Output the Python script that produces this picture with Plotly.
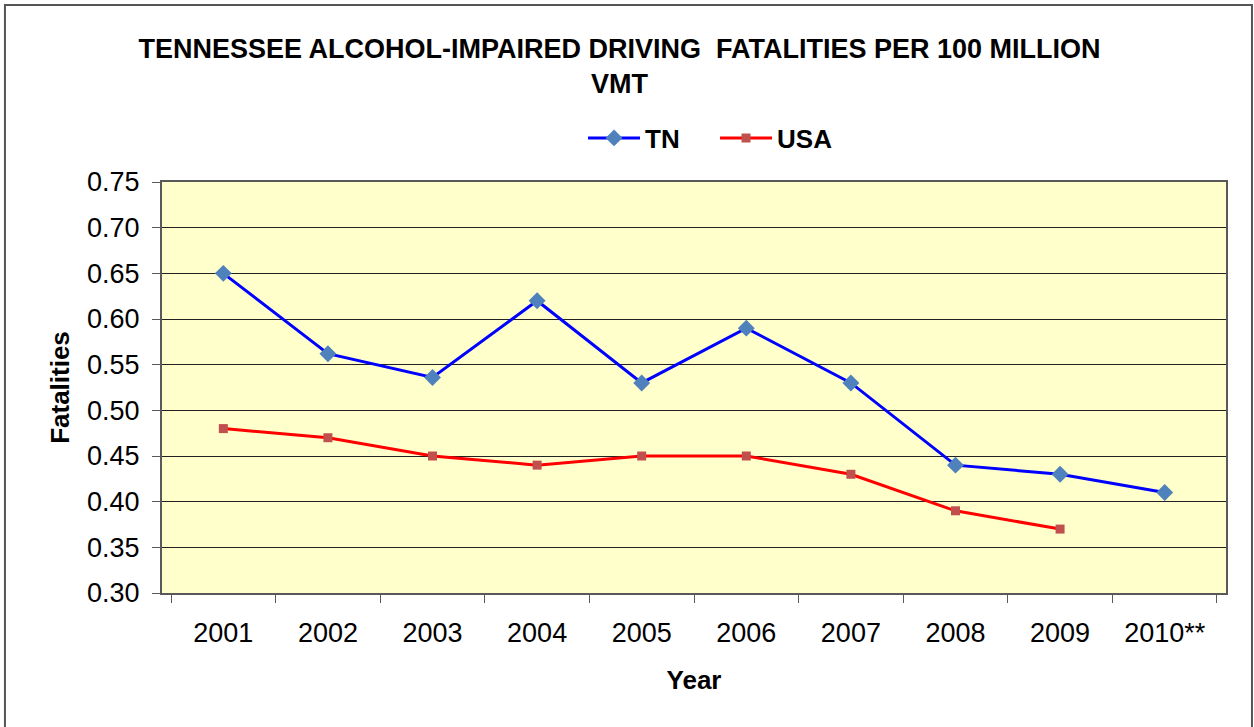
import plotly.graph_objects as go

years = ["2001", "2002", "2003", "2004", "2005", "2006", "2007", "2008", "2009", "2010**"]
tn_rate = [0.65, 0.562, 0.536, 0.62, 0.53, 0.59, 0.53, 0.44, 0.43, 0.41]
usa_rate = [0.48, 0.47, 0.45, 0.44, 0.45, 0.45, 0.43, 0.39, 0.37, None]
y_ticks = [0.30, 0.35, 0.40, 0.45, 0.50, 0.55, 0.60, 0.65, 0.70, 0.75]

FONT = "Arial, Liberation Sans, sans-serif"
AXIS_COLOR = "#595959"

fig = go.Figure()
fig.add_trace(go.Scatter(
    x=years, y=tn_rate, name="<b>TN</b>", mode="lines+markers",
    line=dict(color="#0000FF", width=3),
    marker=dict(symbol="diamond", size=13, color="#4F81BD"),
))
fig.add_trace(go.Scatter(
    x=years, y=usa_rate, name="<b>USA</b>", mode="lines+markers",
    line=dict(color="#FF0000", width=3),
    marker=dict(symbol="square", size=9, color="#C0504D"),
))

fig.update_layout(
    width=1254, height=727,
    paper_bgcolor="white",
    plot_bgcolor="#FFFFCC",
    font=dict(family=FONT, color="black", size=27),
    margin=dict(l=162, r=28, t=182, b=134),
    title=dict(
        text="<b>TENNESSEE ALCOHOL-IMPAIRED DRIVING  FATALITIES PER 100 MILLION<br>VMT</b>",
        x=0.494, xanchor="center", yref="container", y=0.92, yanchor="top",
        font=dict(size=27, family=FONT),
    ),
    legend=dict(
        orientation="h", x=0.3957, xanchor="left", y=1.107, yanchor="middle",
        font=dict(size=26, family=FONT), bgcolor="rgba(0,0,0,0)",
        itemwidth=52, entrywidth=65,
    ),
    showlegend=True,
    xaxis=dict(
        type="category",
        title=dict(text="<b>Year</b>", font=dict(size=26), standoff=23),
        showline=True, linecolor=AXIS_COLOR, linewidth=2, mirror=True,
        ticks="outside", tickson="boundaries", ticklen=8, tickcolor=AXIS_COLOR,
        showgrid=False, tickfont=dict(size=27), ticklabelstandoff=15,
    ),
    yaxis=dict(
        range=[0.30, 0.75], tickvals=y_ticks, tickformat=".2f",
        title=dict(text="<b>Fatalities</b>", font=dict(size=26), standoff=10),
        showline=True, linecolor=AXIS_COLOR, linewidth=2, mirror=True,
        ticks="outside", ticklen=8, tickcolor=AXIS_COLOR,
        showgrid=True, gridcolor="#222222", gridwidth=1, zeroline=False,
        tickfont=dict(size=27), ticklabelstandoff=7,
    ),
)

# outer chart frame
fig.add_shape(type="rect", xref="paper", yref="paper",
              x0=-0.1476, x1=1.0244, y0=-0.36, y1=1.4307,
              line=dict(color="#555555", width=2), layer="above")

fig.write_html("out.html", config={"displayModeBar": False},
               post_script="document.body.style.margin='0';")
